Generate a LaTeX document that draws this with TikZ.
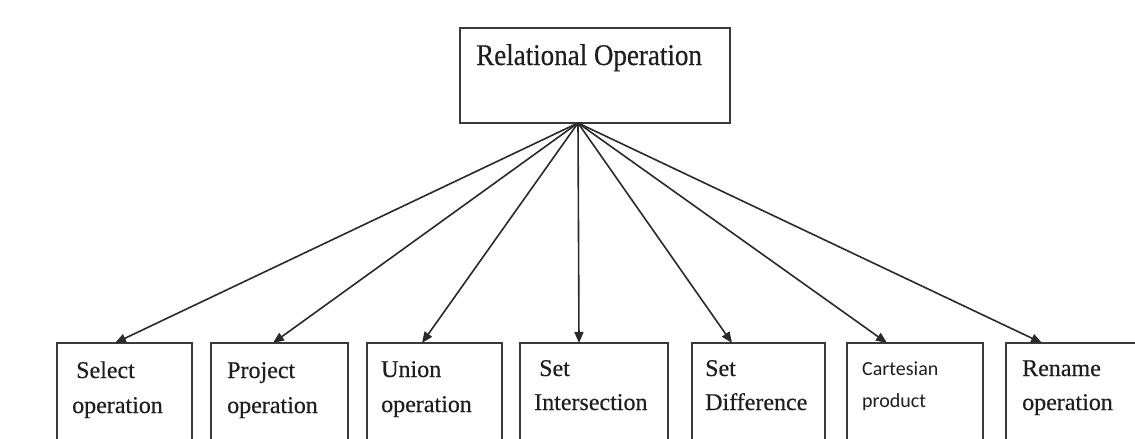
\documentclass[tikz,border=0pt]{standalone}
\usepackage{fontspec}
\setmainfont{Liberation Serif}
\newfontfamily\lblfont[FakeBold=0.4]{Liberation Serif}
\newfontfamily\topfont[FakeStretch=0.9,FakeBold=0.4]{Liberation Serif}
\newfontfamily\sansf{Carlito}
\usetikzlibrary{arrows.meta}
\definecolor{boxc}{HTML}{3A3A3A}
\definecolor{linec}{HTML}{2A2A2A}
\definecolor{txtc}{HTML}{1E1E1E}
\begin{document}
\begin{tikzpicture}[x=1pt,y=-1pt,
  box/.style={draw=boxc, line width=2pt, fill=white, inner sep=0pt, outer sep=0pt, anchor=north west, minimum height=117pt},
  lbl/.style={anchor=base west, inner sep=0pt, font=\lblfont\fontsize{24}{28}\selectfont, text=txtc},
  slbl/.style={anchor=base west, inner sep=0pt, font=\sansf\fontsize{20}{24}\selectfont, text=txtc},
  conn/.style={draw=linec, line width=1.6pt, -{Triangle[length=11pt,width=9pt]}}]
\clip (0,0) rectangle (1135,439);
\fill[white] (0,0) rectangle (1135,439);
% top box
\node[box, minimum width=270pt, minimum height=95pt] (top) at (460,28) {};
\node[anchor=base west, inner sep=0pt, font=\topfont\fontsize{30}{36}\selectfont, text=txtc] (tt) at (476,65) {Relational Operation};
\coordinate (hub) at ([xshift=118pt]top.south west);
% bottom boxes
\node[box, minimum width=135pt] (b1) at (57,343) {};
\node[box, minimum width=137pt] (b2) at (211,343) {};
\node[box, minimum width=135pt] (b3) at (367,343) {};
\node[box, minimum width=148pt] (b4) at (520,343) {};
\node[box, minimum width=133pt] (b5) at (692,343) {};
\node[box, minimum width=136pt] (b6) at (847,343) {};
\node[box, minimum width=139pt] (b7) at (1006,343) {};
% labels
\node[lbl] (l1a) at (76,378) {Select};
\node[lbl] (l1b) at (72,413) {operation};
\node[lbl] (l2a) at (227,378) {Project};
\node[lbl] (l2b) at (227,413) {operation};
\node[lbl] (l3a) at (381,377) {Union};
\node[lbl] (l3b) at (381,412) {operation};
\node[lbl] (l4a) at (539,376) {Set};
\node[lbl] (l4b) at (534,410) {Intersection};
\node[lbl] (l5a) at (705,376) {Set};
\node[lbl] (l5b) at (705,410) {Difference};
\node[slbl] (l6a) at (862,375) {Cartesian};
\node[slbl] (l6b) at (862,407) {product};
\node[lbl] (l7a) at (1022,376) {Rename};
\node[lbl] (l7b) at (1022,410) {operation};
% connectors
\draw[conn] (hub) -- ([xshift=58pt]b1.north west);
\draw[conn] (hub) -- ([xshift=62pt]b2.north west);
\draw[conn] (hub) -- ([xshift=55pt]b3.north west);
\draw[conn] (hub) -- ([xshift=59pt]b4.north west);
\draw[conn] (hub) -- ([xshift=40pt]b5.north west);
\draw[conn] (hub) -- ([xshift=40pt]b6.north west);
\draw[conn] (hub) -- ([xshift=36pt]b7.north west);
\end{tikzpicture}
\end{document}
